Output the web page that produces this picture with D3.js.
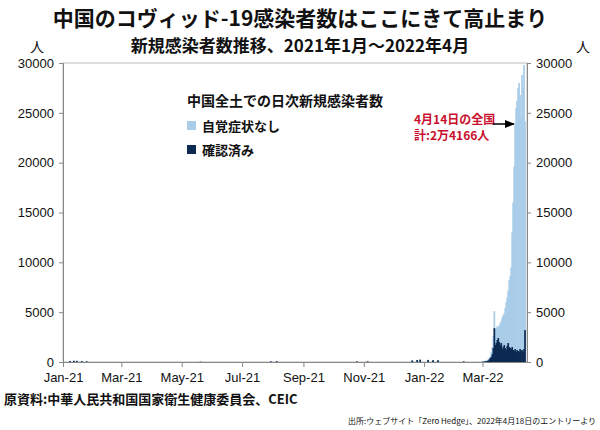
<!DOCTYPE html>
<html>
<head>
<meta charset="utf-8">
<script src="https://cdn.jsdelivr.net/npm/d3@7"></script>
<style>
body { margin: 0; background: #fff; font-family: "Noto Sans CJK JP", "Liberation Sans", sans-serif; }
svg text { fill: #111; }
</style>
</head>
<body>
<svg id="chart" width="600" height="430"></svg>
<script>
// daily data from 2022-03-01 to 2022-04-14
var START = '2022-03-01';
var totalVals = [60, 80, 100, 120, 150, 200, 300, 400, 600, 1000, 1500, 2600, 5100, 3300, 3400, 3600, 3500, 3700, 3900, 4100,
  4500, 4700, 4900, 5400, 6000, 6500, 7200, 8200, 8600, 9500, 13000, 16000, 19600, 23800, 25500, 26200, 27500, 28000,
  26800, 24500, 28800, 27600, 29800, 24166];
var confirmedVals = [20, 30, 40, 60, 80, 100, 150, 250, 400, 500, 800, 1400, 3400, 1700, 1900, 2200, 2400, 2000, 1700, 1900,
  1300, 1500, 1700, 1400, 1200, 1600, 1900, 1500, 1400, 1300, 1500, 1200, 1100, 1300, 1000, 1200, 1100, 1000,
  1300, 1100, 1200, 1000, 1300, 3200];
// earlier small outbreaks
var earlyDates = ['2021-01-08', '2021-01-12', '2021-01-15', '2021-01-20', '2021-01-25', '2021-05-20', '2021-07-30', '2021-08-05',
  '2021-10-25', '2021-11-05', '2021-12-20', '2021-12-25', '2021-12-28', '2022-01-05', '2022-01-10', '2022-01-15', '2022-02-10'];
var earlyTotals = [120, 150, 140, 110, 90, 40, 80, 90, 70, 80, 180, 220, 250, 230, 210, 200, 100];
var earlyConfirmed = [90, 120, 110, 80, 60, 30, 70, 80, 60, 60, 150, 200, 230, 200, 180, 170, 60];
var yTicks = [0, 5000, 10000, 15000, 20000, 25000, 30000];
var xTickLabels = ['Jan-21', 'Mar-21', 'May-21', 'Jul-21', 'Sep-21', 'Nov-21', 'Jan-22', 'Mar-22'];

var parse = d3.timeParse('%Y-%m-%d');
var rows = [];
earlyDates.forEach(function(d, i) { rows.push({date: parse(d), total: earlyTotals[i], conf: earlyConfirmed[i]}); });
totalVals.forEach(function(v, i) {
  rows.push({date: d3.timeDay.offset(parse(START), i), total: v, conf: confirmedVals[i]});
});

var svg = d3.select('#chart');
var x = d3.scaleTime().domain([parse('2021-01-01'), parse('2022-04-15')]).range([63, 527]);
var y = d3.scaleLinear().domain([0, 30000]).range([362, 63]);
var bw = 1.7;

// frame
svg.append('rect').attr('x', 63).attr('y', 63).attr('width', 464).attr('height', 299)
  .attr('fill', 'none').attr('stroke', '#bbb').attr('stroke-width', 1);

// bars
svg.selectAll('.tot').data(rows).enter().append('rect')
  .attr('x', function(d) { return x(d.date) - bw / 2; }).attr('width', bw)
  .attr('y', function(d) { return y(d.total); })
  .attr('height', function(d) { return y(0) - y(d.total); })
  .attr('fill', '#a9cde9');
svg.selectAll('.conf').data(rows).enter().append('rect')
  .attr('x', function(d) { return x(d.date) - bw / 2; }).attr('width', bw)
  .attr('y', function(d) { return y(d.conf); })
  .attr('height', function(d) { return y(0) - y(d.conf); })
  .attr('fill', '#0c2a52');

// axes
var xTicks = xTickLabels.map(function(s) { return d3.timeParse('%b-%y')(s); });
var xa = svg.append('g').attr('transform', 'translate(0,362)')
  .call(d3.axisBottom(x).tickValues(xTicks).tickFormat(d3.timeFormat('%b-%y')).tickSize(5).tickSizeOuter(0));
xa.select('.domain').attr('stroke', '#888');
xa.selectAll('line').attr('stroke', '#888');
xa.selectAll('text').attr('font-size', 13).attr('dy', '0.9em').attr('font-family', 'Liberation Sans');

var yl = svg.append('g').attr('transform', 'translate(63,0)')
  .call(d3.axisLeft(y).tickValues(yTicks).tickSize(4).tickFormat(d3.format('d')));
var yr = svg.append('g').attr('transform', 'translate(527,0)')
  .call(d3.axisRight(y).tickValues(yTicks).tickSize(4).tickFormat(d3.format('d')));
[yl, yr].forEach(function(g) {
  g.select('.domain').attr('stroke', '#888');
  g.selectAll('line').attr('stroke', '#888');
  g.selectAll('text').attr('font-size', 13).attr('font-family', 'Liberation Sans');
});
yl.selectAll('text').attr('x', -9);
yr.selectAll('text').attr('x', 9);

svg.append('text').attr('x', 30).attr('y', 52).attr('font-size', 14).text('人');
svg.append('text').attr('x', 576).attr('y', 52).attr('font-size', 14).text('人');

// titles
svg.append('text').attr('x', 300).attr('y', 26).attr('text-anchor', 'middle')
  .attr('font-size', 21).attr('font-weight', 'bold').text('中国のコヴィッド-19感染者数はここにきて高止まり');
svg.append('text').attr('x', 300).attr('y', 52).attr('text-anchor', 'middle')
  .attr('font-size', 17).attr('font-weight', 'bold').text('新規感染者数推移、2021年1月～2022年4月');

// legend
svg.append('text').attr('x', 187).attr('y', 106).attr('font-size', 14).attr('font-weight', 'bold').text('中国全土での日次新規感染者数');
svg.append('rect').attr('x', 187).attr('y', 121).attr('width', 9).attr('height', 9).attr('fill', '#a9cde9');
svg.append('text').attr('x', 202).attr('y', 131).attr('font-size', 13).attr('font-weight', 'bold').text('自覚症状なし');
svg.append('rect').attr('x', 187).attr('y', 145).attr('width', 9).attr('height', 9).attr('fill', '#0c2a52');
svg.append('text').attr('x', 202).attr('y', 155).attr('font-size', 13).attr('font-weight', 'bold').text('確認済み');

// annotation
svg.append('text').attr('x', 414).attr('y', 124).attr('font-size', 12).attr('font-weight', 'bold')
  .style('fill', '#c8102e').text('4月14日の全国');
svg.append('text').attr('x', 414).attr('y', 140).attr('font-size', 12).attr('font-weight', 'bold')
  .style('fill', '#c8102e').text('計:2万4166人');
svg.append('defs').append('marker').attr('id', 'ah').attr('viewBox', '0 0 10 10')
  .attr('refX', 9).attr('refY', 5).attr('markerWidth', 7).attr('markerHeight', 7).attr('orient', 'auto')
  .append('path').attr('d', 'M0,1L10,5L0,9Z').attr('fill', '#000');
svg.append('line').attr('x1', 493).attr('y1', 124).attr('x2', 514).attr('y2', 124)
  .attr('stroke', '#000').attr('stroke-width', 1.5).attr('marker-end', 'url(#ah)');

// sources
svg.append('text').attr('x', 4).attr('y', 404).attr('font-size', 13).attr('font-weight', 'bold')
  .text('原資料:中華人民共和国国家衛生健康委員会、CEIC');
svg.append('text').attr('x', 596).attr('y', 424).attr('text-anchor', 'end').attr('font-size', 8)
  .text('出所:ウェブサイト「Zero Hedge」、2022年4月18日のエントリーより');
</script>
</body>
</html>
